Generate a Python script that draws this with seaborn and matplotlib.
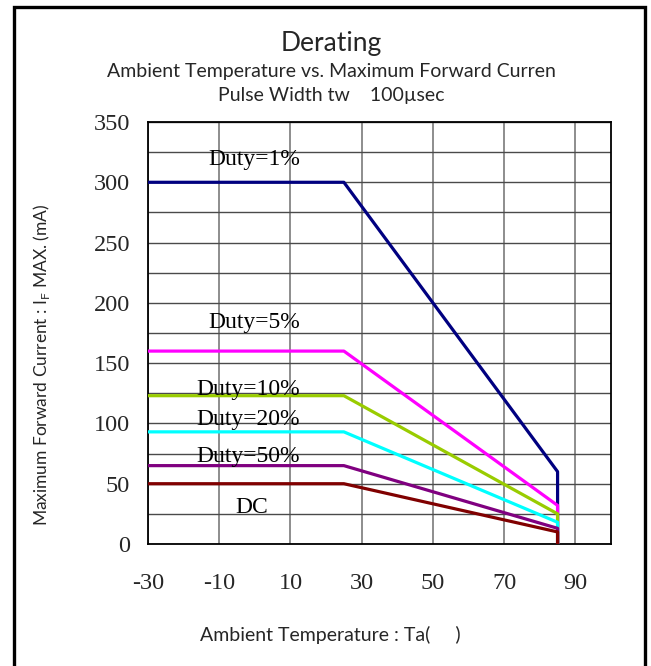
import matplotlib
matplotlib.use("Agg")
import matplotlib.pyplot as plt
import matplotlib.patches as mpatches
import seaborn as sns
import pandas as pd

# ---- data ----
temps = [-30, 25, 85, 85]
series_names = ["Duty=1%", "Duty=5%", "Duty=10%", "Duty=20%", "Duty=50%", "DC"]
flat_values = [300, 160, 123, 93, 65, 50]
end_values = [60, 32, 25, 18, 13, 10]
floor_value = 0
colors = ["#000080", "#FF00FF", "#99CC00", "#00FFFF", "#800080", "#800000"]
label_x = [12.7, 12.7, 12.7, 12.7, 12.7, -0.8]
label_y = [314, 179, 123.6, 98.7, 68.3, 25.5]
label_ha = ["right", "right", "right", "right", "right", "center"]
x_ticks = [-30, -10, 10, 30, 50, 70, 90]
y_ticks = [0, 50, 100, 150, 200, 250, 300, 350]

rows = []
for name, fv, ev in zip(series_names, flat_values, end_values):
    for i, (t, v) in enumerate(zip(temps, [fv, fv, ev, floor_value])):
        rows.append({"series": name, "order": i, "Ta": t, "IF": v})
df = pd.DataFrame(rows)

sns.set_style("white")
SERIF = ["Liberation Serif", "DejaVu Serif"]
SANS = ["Lato", "DejaVu Sans"]
plt.rcParams["font.family"] = SANS

W, H = 651, 666
fig = plt.figure(figsize=(W / 100, H / 100), dpi=100)
ax = fig.add_axes([148 / W, 1 - 544 / H, (611 - 148) / W, (544 - 122) / H])

for name, col in zip(series_names, colors):
    sub = df[df["series"] == name]
    sns.lineplot(data=sub, x="Ta", y="IF", sort=False, estimator=None,
                 color=col, lw=2.3, ax=ax, zorder=3)

for name, lx, ly, ha in zip(series_names, label_x, label_y, label_ha):
    ax.text(lx, ly, name, ha=ha, va="baseline", fontsize=17,
            family=SERIF, color="black", zorder=4)

ax.set_xlim(-30, 100)
ax.set_ylim(0, 350)
ax.set_xticks(x_ticks)
ax.set_yticks(y_ticks)
ax.set_yticks(list(range(25, 350, 50)), minor=True)
ax.set_xticklabels([str(t) for t in x_ticks], family=SERIF, fontsize=17.5)
ax.set_yticklabels([str(t) for t in y_ticks], family=SERIF, fontsize=17.5)
ax.tick_params(axis="x", which="major", direction="in", length=6, width=1.2,
               color="#333333", pad=21)
ax.tick_params(axis="y", which="major", direction="in", length=6, width=1.2,
               color="#333333", pad=13)
ax.tick_params(axis="y", which="minor", length=0)
ax.grid(True, which="major", axis="x", color="#7a7a7a", lw=1.2, zorder=1)
ax.grid(True, which="both", axis="y", color="#4a4a4a", lw=1.0, zorder=1)
ax.set_axisbelow(True)
for s in ax.spines.values():
    s.set_visible(True)
    s.set_color("black")
    s.set_linewidth(1.3)

ax.set_xlabel("")
ax.set_ylabel("Maximum Forward Current : I$_\\mathregular{F}$ MAX. (mA)",
              fontsize=12.5, family=SANS)
ax.yaxis.set_label_coords((52 - 148) / 463, (544 - 365) / 422)

fig.text(331 / W, 1 - 51 / H, "Derating", ha="center", va="baseline", fontsize=19)
fig.text(331 / W, 1 - 77 / H, "Ambient Temperature vs. Maximum Forward Curren",
         ha="center", va="baseline", fontsize=14)
fig.text(331 / W, 1 - 101.5 / H, "Pulse Width tw    100µsec",
         ha="center", va="baseline", fontsize=14)
fig.text(330 / W, 1 - 641 / H, "Ambient Temperature : Ta(     )",
         ha="center", va="baseline", fontsize=14)

frame = mpatches.Rectangle((14 / W, -0.02), (645 - 14) / W, 1.02 - 7 / H,
                           transform=fig.transFigure, fill=False,
                           edgecolor="black", lw=2.4)
fig.patches.append(frame)

fig.savefig("out.png", dpi=100)
